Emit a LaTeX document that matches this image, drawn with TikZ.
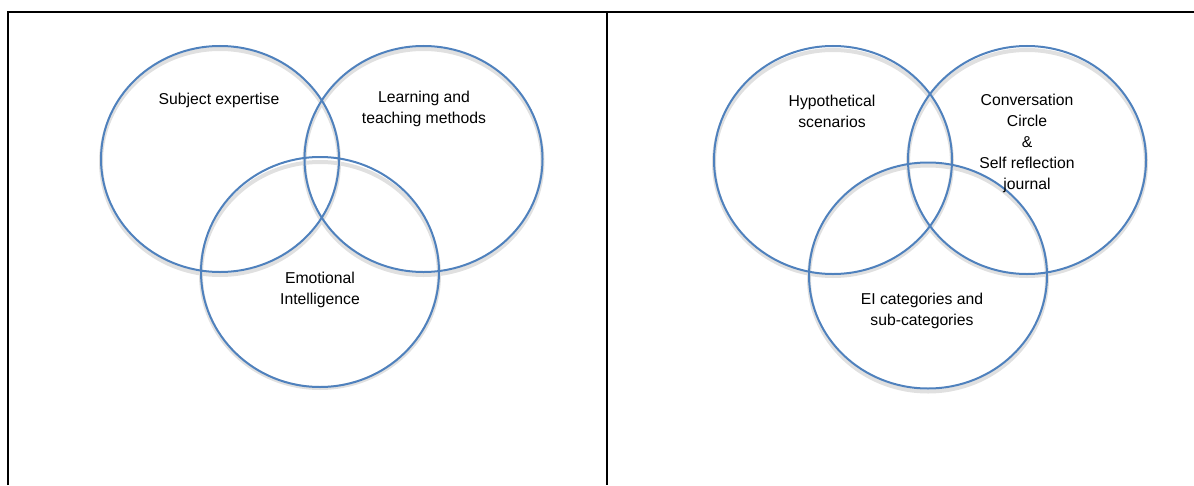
\documentclass[tikz,border=0pt]{standalone}
\usepackage{fontspec}
\setmainfont{Liberation Sans}
\begin{document}
\begin{tikzpicture}[x=0.75pt,y=-0.75pt,
  ring/.style={draw=ringblue,line width=1.5pt},
  ringshadow/.style={draw=black!12,line width=3pt},
  lbl/.style={align=center,inner sep=0pt,font=\fontsize{11.8}{15.75}\selectfont},
  frame/.style={line width=1.6pt,black}]
\definecolor{ringblue}{RGB}{79,129,189}
\useasboundingbox (0,0) rectangle (1194,485);
% table frame
\coordinate (tl) at (8,12);
\coordinate (tr) at (1194,12);
\coordinate (bl) at (8,485);
\coordinate (tm) at (607,12);
\coordinate (bm) at (607,485);
\draw[frame] (bl) -- (tl) -- (tr);
\draw[frame] (tm) -- (bm);
% shadows
\foreach \cx/\cy in {220/159,423.5/159,320/272,833/160,1027/160,928/275.5}
  \draw[ringshadow] (\cx,\cy+3) ellipse [x radius=119,y radius=113];
% left venn
\draw[ring] (220,159) ellipse [x radius=119,y radius=113];
\draw[ring] (423.5,159) ellipse [x radius=119,y radius=113];
\draw[ring] (320,272) ellipse [x radius=119,y radius=115];
% right venn
\draw[ring] (833,160) ellipse [x radius=119,y radius=114];
\draw[ring] (1027,160) ellipse [x radius=119,y radius=114];
\draw[ring] (928,275.5) ellipse [x radius=119,y radius=113];
% labels
\node[lbl] (subj) at (219,100) {Subject expertise};
\node[lbl] (learn) at (424,108.5) {Learning and\\teaching methods};
\node[lbl] (emo) at (320,289.5) {Emotional\\Intelligence};
\node[lbl] (hyp) at (832,111.5) {Hypothetical\\scenarios};
\node[lbl] (conv) at (1027,143) {Conversation\\Circle\\\&\\Self reflection\\journal};
\node[lbl] (eicat) at (922,310.5) {EI categories and\\sub-categories};
\end{tikzpicture}
\end{document}
